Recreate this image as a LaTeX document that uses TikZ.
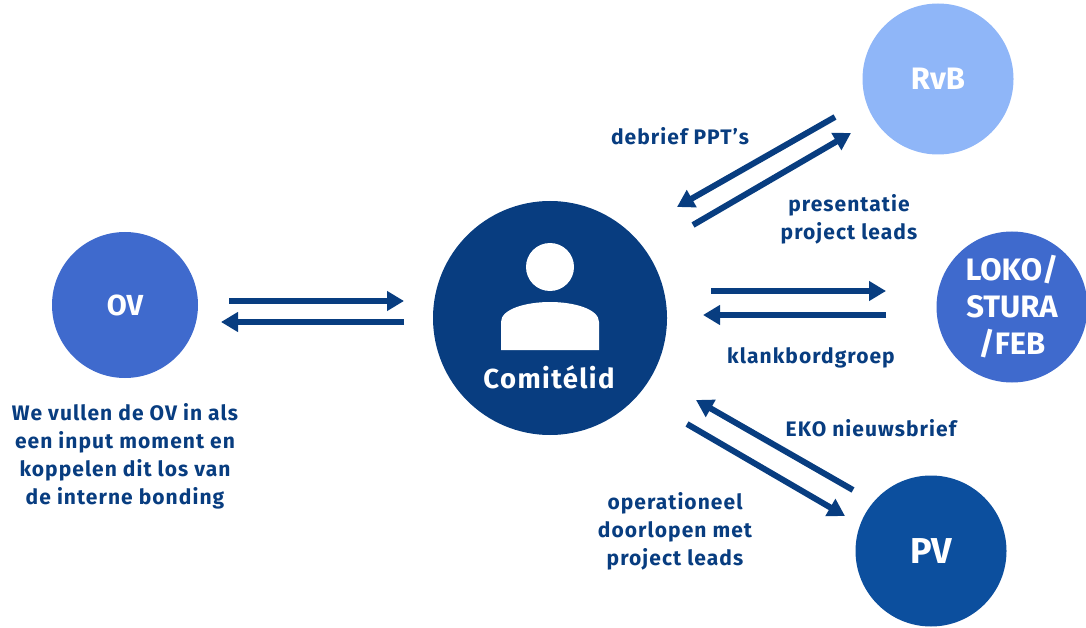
\documentclass[tikz,border=0pt]{standalone}
\usepackage{fontspec}
\setmainfont{Fira Sans}
\newfontfamily\widefont[LetterSpace=5]{Fira Sans}
\usetikzlibrary{arrows.meta,positioning}
\definecolor{navy}{HTML}{083D80}
\definecolor{midblue}{HTML}{3F6ACD}
\definecolor{lightblue}{HTML}{8FB6F8}
\definecolor{pvblue}{HTML}{0C4F9E}
\tikzset{
  party/.style={circle, inner sep=0pt, minimum size=151pt, text=white, align=center,
    font=\bfseries\fontsize{31}{37}\selectfont},
  flow/.style={line width=6pt, navy, -{Triangle[length=17pt,width=19pt]}},
  caption/.style={text=navy, align=center, font=\widefont\bfseries\fontsize{21}{28}\selectfont}
}
\begin{document}
\begin{tikzpicture}[x=1pt,y=-1pt]
\useasboundingbox (0,0) rectangle (1086,628);

% Draw the circles
\node[party, fill=navy, minimum size=234pt] (lid) at (550,318) {};
\node[party, fill=midblue, minimum size=146pt, font=\bfseries\fontsize{29}{35}\selectfont] (ov) at (125,305) {OV};
\node[party, fill=lightblue] (rvb) at (938,79) {RvB};
\node[party, fill=midblue] (loko) at (1012,307) {LOKO/\\STURA\\/FEB};
\node[party, fill=pvblue, font=\bfseries\fontsize{36}{40}\selectfont] (pv) at (931,551) {PV};

% Person icon
\fill[white] (550,267) circle (24pt);
\fill[white] (501,350) -- (501,322) .. controls (501,309) and (526,302) .. (550,302)
  .. controls (574,302) and (599,309) .. (599,322) -- (599,350) -- cycle;
\node[text=white, font=\widefont\bfseries\fontsize{27.5}{30}\selectfont] (lidname) at (549,377) {Comitélid};

% Arrow end points
\coordinate (ovA) at (229,301);  \coordinate (lidA) at (404,301);
\coordinate (lidB) at (404,322); \coordinate (ovB) at (221,322);
\coordinate (lidC) at (711,291); \coordinate (lokoC) at (886,291);
\coordinate (lokoD) at (886,315); \coordinate (lidD) at (703,315);
\coordinate (rvbE) at (835,117); \coordinate (lidE) at (677,207);
\coordinate (lidF) at (693,225); \coordinate (rvbF) at (851,133);
\coordinate (pvG) at (853,490);  \coordinate (lidG) at (696,400);
\coordinate (lidH) at (687,424); \coordinate (pvH) at (845,516);

% Draw the arrows
\draw[flow] (ovA) -- (lidA);
\draw[flow] (lidB) -- (ovB);
\draw[flow] (lidC) -- (lokoC);
\draw[flow] (lokoD) -- (lidD);
\draw[flow] (rvbE) -- (lidE);
\draw[flow] (lidF) -- (rvbF);
\draw[flow] (pvG) -- (lidG);
\draw[flow] (lidH) -- (pvH);

% Labels
\node[caption] (debrief) at (680,136) {debrief PPT’s};
\node[caption] (presentatie) at (849,219) {presentatie\\project leads};
\node[caption] (klank) at (811,358) {klankbordgroep};
\node[caption] (eko) at (871,428) {EKO nieuwsbrief};
\node[caption] (oper) at (675,531) {operationeel\\doorlopen met\\project leads};
\node[caption] (ovnote) at (125,456) {We vullen de OV in als\\een input moment en\\koppelen dit los van\\de interne bonding};
\end{tikzpicture}
\end{document}
